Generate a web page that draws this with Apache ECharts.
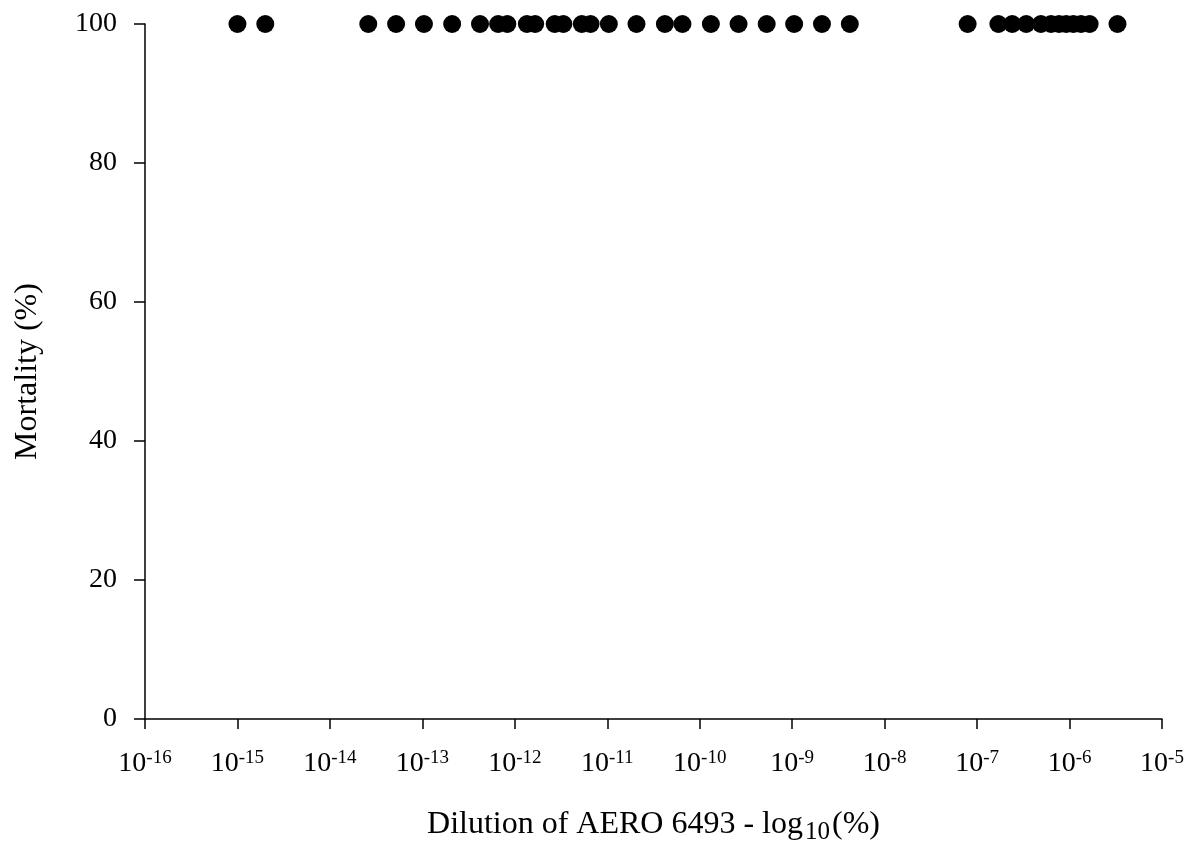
<!DOCTYPE html>
<html>
<head>
<meta charset="utf-8">
<title>Mortality vs dilution of AERO 6493</title>
<script src="https://cdn.jsdelivr.net/npm/echarts@6/dist/echarts.min.js"></script>
<style>
  html, body { margin: 0; padding: 0; background: #ffffff; }
  #chart { width: 1193px; height: 849px; }
</style>
</head>
<body>
<div id="chart"></div>
<script>
// Dilutions tested (% AERO 6493) and the mortality observed at each one
const dilutions = [
  1e-15, 2e-15,
  2.6e-14, 5.2e-14, 1.04e-13, 2.1e-13, 4.2e-13, 6.6e-13, 8.3e-13,
  1.35e-12, 1.66e-12, 2.7e-12, 3.35e-12, 5.3e-12, 6.6e-12,
  1.04e-11, 2.07e-11, 4.2e-11, 6.5e-11,
  1.32e-10, 2.63e-10, 5.3e-10, 1.05e-9, 2.1e-9, 4.2e-9,
  7.9e-8, 1.7e-7, 2.4e-7, 3.4e-7, 4.9e-7, 6.3e-7, 7.7e-7, 9.2e-7,
  1.1e-6, 1.33e-6, 1.65e-6, 3.3e-6
];
const mortality = [
  100, 100,
  100, 100, 100, 100, 100, 100, 100,
  100, 100, 100, 100, 100, 100,
  100, 100, 100, 100,
  100, 100, 100, 100, 100, 100,
  100, 100, 100, 100, 100, 100, 100, 100,
  100, 100, 100, 100
];

// Axis ranges and ticks
const xMinExp = -16;
const xMaxExp = -5;
const yTicks = [0, 20, 40, 60, 80, 100];

const points = dilutions.map((d, i) => [d, mortality[i]]);

const serif = "'Liberation Serif', 'Times New Roman', serif";

const chart = echarts.init(document.getElementById('chart'), null, { renderer: 'canvas' });

chart.setOption({
  backgroundColor: '#ffffff',
  animation: false,
  grid: {
    left: 145,
    right: 31,
    top: 24,
    bottom: 130,
    containLabel: false,
    outerBoundsMode: 'none'
  },
  xAxis: {
    type: 'log',
    logBase: 10,
    min: Math.pow(10, xMinExp),
    max: Math.pow(10, xMaxExp),
    interval: 1,
    splitNumber: xMaxExp - xMinExp,
    name: '{a|Dilution of AERO 6493 - log}{sub|10}{a|(%)}',
    nameLocation: 'middle',
    nameGap: 86,
    nameTextStyle: {
      rich: {
        a: { fontFamily: serif, fontSize: 32, color: '#000', lineHeight: 40 },
        sub: { fontFamily: serif, fontSize: 25, color: '#000', verticalAlign: 'bottom', padding: [0, 2, 0, 2] }
      }
    },
    axisLine: { show: true, onZero: false, lineStyle: { color: '#000', width: 1.5 } },
    axisTick: { show: true, inside: false, length: 10, lineStyle: { color: '#000', width: 1.5 } },
    minorTick: { show: false },
    splitLine: { show: false },
    axisLabel: {
      margin: 30,
      showMinLabel: true,
      showMaxLabel: true,
      formatter: function (v) {
        const e = Math.round(Math.log10(v));
        return '{b|10}{s|' + e + '}';
      },
      rich: {
        b: { fontFamily: serif, fontSize: 28, color: '#000', lineHeight: 30 },
        s: { fontFamily: serif, fontSize: 19, color: '#000', verticalAlign: 'top' }
      }
    }
  },
  yAxis: {
    type: 'value',
    min: yTicks[0],
    max: yTicks[yTicks.length - 1],
    interval: yTicks[1] - yTicks[0],
    name: 'Mortality (%)',
    nameLocation: 'middle',
    nameGap: 101,
    nameRotate: 90,
    nameTextStyle: { fontFamily: serif, fontSize: 32, color: '#000' },
    axisLine: { show: true, onZero: false, lineStyle: { color: '#000', width: 1.5 } },
    axisTick: { show: true, inside: false, length: 11, lineStyle: { color: '#000', width: 1.5 } },
    splitLine: { show: false },
    axisLabel: {
      margin: 28,
      fontFamily: serif,
      fontSize: 28,
      color: '#000'
    }
  },
  series: [{
    type: 'scatter',
    data: points,
    symbol: 'circle',
    symbolSize: 18,
    clip: false,
    itemStyle: { color: '#000', opacity: 1 }
  }]
});
</script>
</body>
</html>
